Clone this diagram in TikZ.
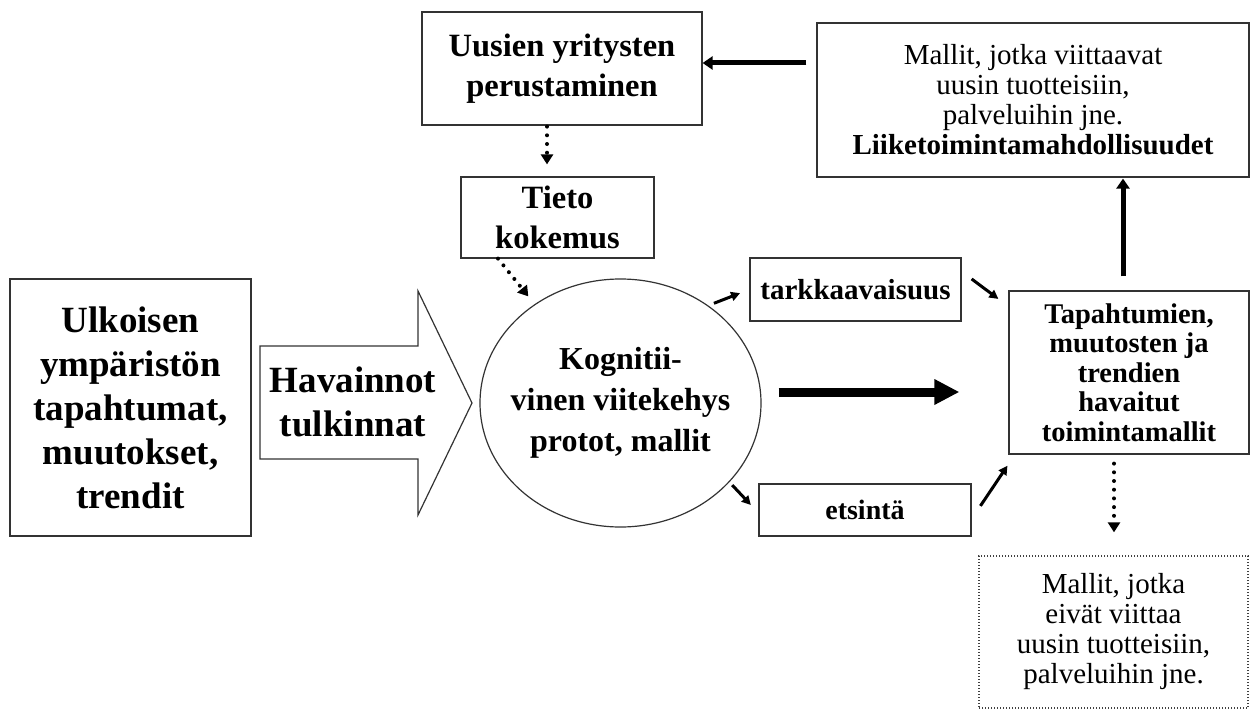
\documentclass[tikz,border=0pt]{standalone}
\usepackage{fontspec}
\setmainfont{Liberation Serif}
\usetikzlibrary{arrows.meta,shapes.geometric}

\tikzset{
  box/.style={draw=black!80, line width=1.2pt, rectangle, inner sep=0pt, align=center},
  dotbox/.style={draw=black!75, line width=1.3pt, dash pattern=on 1.4pt off 1.6pt,
                 rectangle, inner sep=0pt, align=center},
  smallarr/.style={line width=3pt, -{Triangle[length=9pt,width=9pt]}},
  heavyarr/.style={line width=5pt, -{Triangle[length=10pt,width=13pt]}},
  widearr/.style={line width=9pt, -{Triangle[length=25pt,width=24pt]}},
  dotarr/.style={line width=4pt, line cap=round, dash pattern=on 0pt off 8.7pt,
                 -{Triangle[length=10pt,width=12pt]}},
  fA/.style={font=\fontsize{37}{44}\selectfont\bfseries},
  fB/.style={font=\fontsize{32.5}{40}\selectfont\bfseries},
  fC/.style={font=\fontsize{29}{30}\selectfont},
  fD/.style={font=\fontsize{28.5}{29.5}\selectfont\bfseries},
}

\begin{document}
\begin{tikzpicture}[x=1pt,y=-1pt]
  \useasboundingbox (0,0) rectangle (1250,709);

  % left-hand box
  \node[box, fA, minimum width=241pt, minimum height=257pt] (ulk) at (130.5,407.5)
    {Ulkoisen\\ympäristön\\tapahtumat,\\muutokset,\\trendit};

  % block arrow with the observations
  \draw[draw=black!80, line width=1.2pt]
    (260,346) -- (418,346) -- (418,291) -- (472,403) -- (418,515) -- (418,459) -- (260,459) -- cycle;
  \node[fA, align=center, inner sep=0pt] (hav) at (353,402) {Havainnot\\tulkinnat};

  % cognitive frame: outline and its text
  \node[ellipse, draw=black!80, line width=1.2pt, minimum width=281pt, minimum height=248pt,
        inner sep=0pt] (kog) at (620.5,403) {};
  \node[align=center, inner sep=0pt, font=\fontsize{32}{41}\selectfont\bfseries]
    (kogt) at (kog.center) {Kognitii-\\vinen viitekehys\\protot, mallit};

  % upper boxes
  \node[box, fB, minimum width=280pt, minimum height=113pt] (uus) at (562,68.5)
    {Uusien yritysten\\perustaminen};
  \node[box, fB, minimum width=193pt, minimum height=81pt] (tieto) at (557.5,217.5)
    {Tieto\\kokemus};
  \node[box, fC, minimum width=432pt, minimum height=154pt] (liike) at (1033,100)
    {Mallit, jotka viittaavat\\uusin tuotteisiin,\\palveluihin jne.\\\textbf{Liiketoimintamahdollisuudet}};

  % attention / search
  \node[box, font=\fontsize{29}{30}\selectfont\bfseries, minimum width=211pt, minimum height=63pt]
    (tark) at (855.5,289.5) {tarkkaavaisuus};
  \node[box, font=\fontsize{28}{30}\selectfont\bfseries, minimum width=212pt, minimum height=52pt]
    (ets) at (865,510) {etsintä};

  % observed patterns
  \node[box, fD, minimum width=240pt, minimum height=163pt] (tap) at (1129,372.5)
    {Tapahtumien,\\muutosten ja\\trendien\\havaitut\\toimintamallit};

  % patterns without new products
  \node[dotbox, fC, minimum width=269pt, minimum height=152pt] (muut) at (1113.5,632)
    {Mallit, jotka\\eivät viittaa\\uusin tuotteisiin,\\palveluihin jne.};

  % connectors
  \coordinate (topy) at ([yshift=37pt]liike.west);
  \draw[heavyarr, shorten <=10pt] (topy) -- (topy -| uus.east);

  \coordinate (ud) at ([xshift=-15pt]uus.south);
  \draw[dotarr, shorten <=1pt, shorten >=12pt] (ud) -- (ud |- tieto.north);

  \draw[dotarr, shorten >=10pt] ([xshift=-59.5pt]tieto.south) -- (kog.131.7);

  \draw[smallarr, shorten <=6pt, shorten >=10pt] (kog.48) -- (tark.west);
  \draw[smallarr, shorten <=12.5pt, shorten >=12.5pt]
    ([yshift=18pt]tark.east) -- ([yshift=-16pt]tap.north west);

  \draw[smallarr, shorten <=4pt, shorten >=11pt] (kog.-36.6) -- ([yshift=-3pt]ets.west);
  \draw[smallarr, shorten <=15.8pt, shorten >=13.3pt]
    ([yshift=-9pt]ets.east) -- ([xshift=6.5pt]tap.south west);

  \coordinate (mid) at ([yshift=11pt]kog.east);
  \draw[widearr, shorten <=17pt, shorten >=49pt] (mid) -- (mid -| tap.west);

  \coordinate (up) at ([xshift=-6pt]tap.north);
  \draw[heavyarr, shorten <=14pt, shorten >=1pt] (up) -- (up |- liike.south);

  \coordinate (dn) at ([xshift=-15pt]tap.south);
  \draw[dotarr, shorten <=9pt, shorten >=23pt] (dn) -- (dn |- muut.north);
\end{tikzpicture}
\end{document}
